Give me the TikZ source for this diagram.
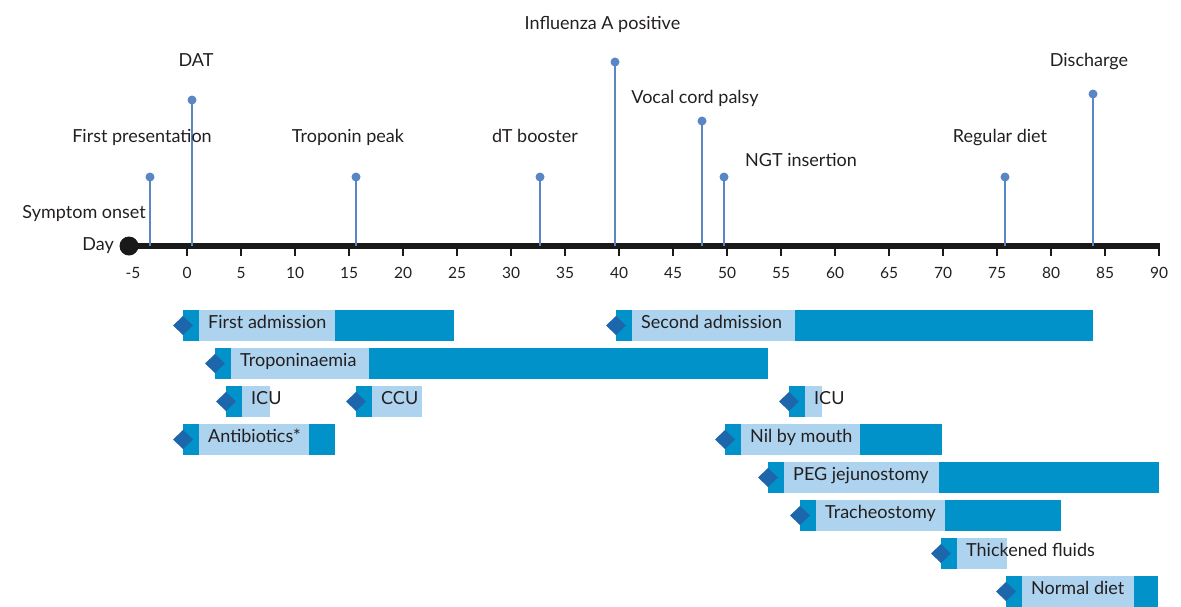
\documentclass[tikz,border=0pt]{standalone}
\usepackage{fontspec}
\setmainfont{Lato}
\definecolor{evblue}{HTML}{5B86C4}
\definecolor{dkbar}{HTML}{0092C9}
\definecolor{ltbar}{HTML}{AED3EE}
\definecolor{dmd}{HTML}{1E66AC}
\definecolor{txt}{HTML}{231F20}
\newcommand\ganttbar[7]{%
  \fill[dkbar] (#3,#2) rectangle (#6,#2+31);
  \fill[ltbar] (#3+15.5,#2) rectangle (#5,#2+31);
  \fill[dmd] (#3-10,#2+15.5) -- (#3,#2+6) -- (#3+10,#2+15.5) -- (#3,#2+25) -- cycle;
  \node[lab,anchor=base west] (#1) at (#3+25,#2+18.5) {#7};
}
\newcommand\evt[3]{% name, x, doty
  \node[evdot] (#1d) at (#2,#3) {};
  \coordinate (#1a) at (#2,246);
  \draw[evstem] (#1d.center) -- (#1a);
}
\begin{document}
\begin{tikzpicture}[x=1pt,y=-1pt,
  lab/.style={font=\fontsize{18}{21}\selectfont, text=txt, inner sep=0pt},
  evdot/.style={circle, fill=evblue, inner sep=0pt, minimum size=9pt},
  evstem/.style={draw=evblue, line width=2pt},
  ticklab/.style={font=\fontsize{15.5}{18}\selectfont, text=txt, inner sep=0pt, anchor=base}]
\useasboundingbox (0,0) rectangle (1181,606);
% axis
\node[circle, fill=black!90, inner sep=0pt, minimum size=19pt] (origin) at (129,246) {};
\coordinate (axend) at (1160,246);
\draw[line width=6pt, black!90] (origin.center) -- (axend);
\foreach \d in {0,5,...,90}{
  \draw[line width=2pt, black!90] (187+10.8*\d,246) -- (187+10.8*\d,256);
}
\foreach \d in {-5,0,5,...,90}{
  \node[ticklab] at (187+10.8*\d,278) {\d};
}
\node[lab, anchor=base east] (day) at (114,250) {Day};
% events
\evt{fp}{150}{177}
\evt{dat}{192}{100}
\evt{tp}{356}{177}
\evt{dt}{540}{177}
\evt{flu}{615}{62}
\evt{vc}{702}{121}
\evt{ngt}{724}{177}
\evt{rd}{1005}{177}
\evt{dis}{1093}{94}
\node[lab, anchor=base east] (so) at (146,218) {Symptom onset};
\node[lab, anchor=base] (fpl) at (142,142) {First presentation};
\node[lab, anchor=base] (datl) at (196,66) {DAT};
\node[lab, anchor=base] (tpl) at (348,142) {Troponin peak};
\node[lab, anchor=base] (dtl) at (535,142) {dT booster};
\node[lab, anchor=base] (flul) at (602.5,29) {Influenza A positive};
\node[lab, anchor=base] (vcl) at (695,103) {Vocal cord palsy};
\node[lab, anchor=base] (ngtl) at (801,166) {NGT insertion};
\node[lab, anchor=base] (rdl) at (1000,142) {Regular diet};
\node[lab, anchor=base] (disl) at (1089,66) {Discharge};
% bars
\ganttbar{b1}{310}{183}{198}{335}{454}{First admission}
\ganttbar{b2}{310}{616}{632}{795}{1093}{Second admission}
\ganttbar{b3}{348}{215}{231}{369}{768}{Troponinaemia}
\ganttbar{b4}{386}{226}{242}{270}{270}{ICU}
\ganttbar{b5}{386}{356}{372}{422}{422}{CCU}
\ganttbar{b6}{386}{789}{805}{822}{822}{ICU}
\ganttbar{b7}{424}{183}{198}{309}{335}{Antibiotics*}
\ganttbar{b8}{424}{725}{740}{860}{942}{Nil by mouth}
\ganttbar{b9}{462}{768}{783}{939}{1159}{PEG jejunostomy}
\ganttbar{b10}{500}{800}{816}{945}{1061}{Tracheostomy}
\ganttbar{b11}{538}{941}{957}{1007}{1007}{Thickened fluids}
\ganttbar{b12}{576}{1006}{1022}{1134}{1158}{Normal diet}
\end{tikzpicture}
\end{document}
